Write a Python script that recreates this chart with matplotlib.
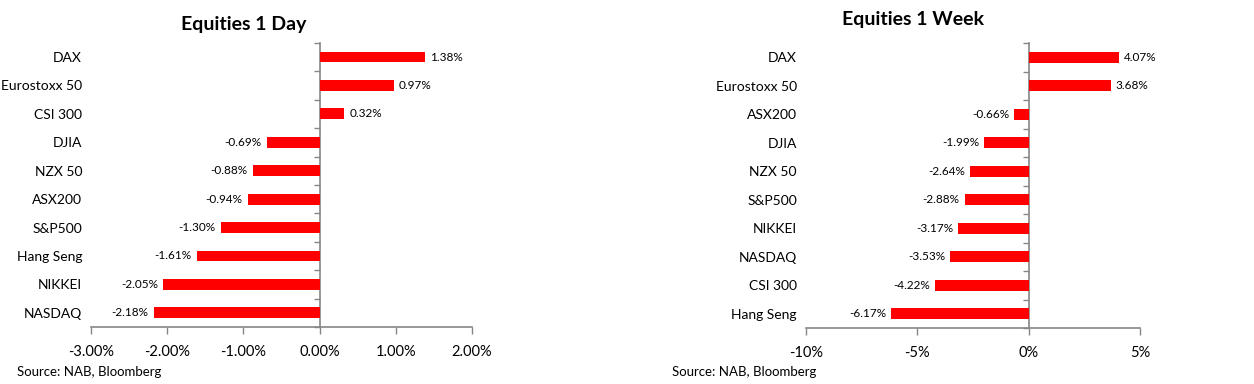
import matplotlib
matplotlib.use("Agg")
import matplotlib.pyplot as plt
from matplotlib.ticker import FuncFormatter

plt.rcParams['font.family'] = ['Lato', 'DejaVu Sans']

# 1 day data
day_names = ["DAX", "Eurostoxx 50", "CSI 300", "DJIA", "NZX 50",
             "ASX200", "S&P500", "Hang Seng", "NIKKEI", "NASDAQ"]
day_vals = [1.38, 0.97, 0.32, -0.69, -0.88, -0.94, -1.30, -1.61, -2.05, -2.18]
day_ticks = [-3, -2, -1, 0, 1, 2]

# 1 week data
week_names = ["DAX", "Eurostoxx 50", "ASX200", "DJIA", "NZX 50",
              "S&P500", "NIKKEI", "NASDAQ", "CSI 300", "Hang Seng"]
week_vals = [4.07, 3.68, -0.66, -1.99, -2.64, -2.88, -3.17, -3.53, -4.22, -6.17]
week_ticks = [-10, -5, 0, 5]

GREY = "#868686"


def draw_panel(ax, names, vals, ticks, tick_fmt, label_off):
    n = len(names)
    ypos = list(range(n))
    ax.barh(ypos, vals, height=0.38, color="#FF0000", zorder=2)
    ax.set_xlim(ticks[0], ticks[-1])
    ax.set_ylim(n - 0.5, -0.5)
    ax.set_xticks(ticks)
    ax.xaxis.set_major_formatter(FuncFormatter(tick_fmt))
    ax.set_yticks(ypos)
    ax.set_yticklabels(names)
    ax.tick_params(axis='y', length=0, pad=6.5, labelsize=10)
    ax.tick_params(axis='x', length=5, width=1, color=GREY, pad=8, labelsize=10.5)
    for s in ["top", "right", "left"]:
        ax.spines[s].set_visible(False)
    ax.spines["bottom"].set_color(GREY)
    ax.spines["bottom"].set_linewidth(1.2)

    # vertical axis at zero with category boundary ticks
    sec = ax.secondary_yaxis(0, transform=ax.transData)
    sec.set_yticks([i - 0.5 for i in range(n + 1)])
    sec.set_yticklabels([])
    sec.tick_params(axis='y', length=4, width=1, color=GREY, direction='out')
    sec.spines["left"].set_color(GREY)
    sec.spines["left"].set_linewidth(1.2)

    for y, v in zip(ypos, vals):
        if v >= 0:
            ax.text(v + label_off, y, f"{v:.2f}%", va="center", ha="left", fontsize=8.5)
        else:
            ax.text(v - label_off, y, f"{v:.2f}%", va="center", ha="right", fontsize=8.5)


fig = plt.figure(figsize=(12.54, 3.84), dpi=100)

ax1 = fig.add_axes([0.0726, 0.1484, 0.3038, 0.740])
draw_panel(ax1, day_names, day_vals, day_ticks, lambda x, p: f"{x:.2f}%", 0.07)

ax2 = fig.add_axes([0.6427, 0.1458, 0.2664, 0.742])
draw_panel(ax2, week_names, week_vals, week_ticks, lambda x, p: f"{x:.0f}%", 0.22)

fig.text(0.1946, 0.935, "Equities 1 Day", ha="center", va="center",
         fontsize=14, fontweight="bold")
fig.text(0.728, 0.948, "Equities 1 Week", ha="center", va="center",
         fontsize=14, fontweight="bold")
fig.text(0.0136, 0.031, "Source: NAB, Bloomberg", ha="left", va="center", fontsize=9.5)
fig.text(0.536, 0.031, "Source: NAB, Bloomberg", ha="left", va="center", fontsize=9.5)

fig.savefig("out.png", dpi=100)
